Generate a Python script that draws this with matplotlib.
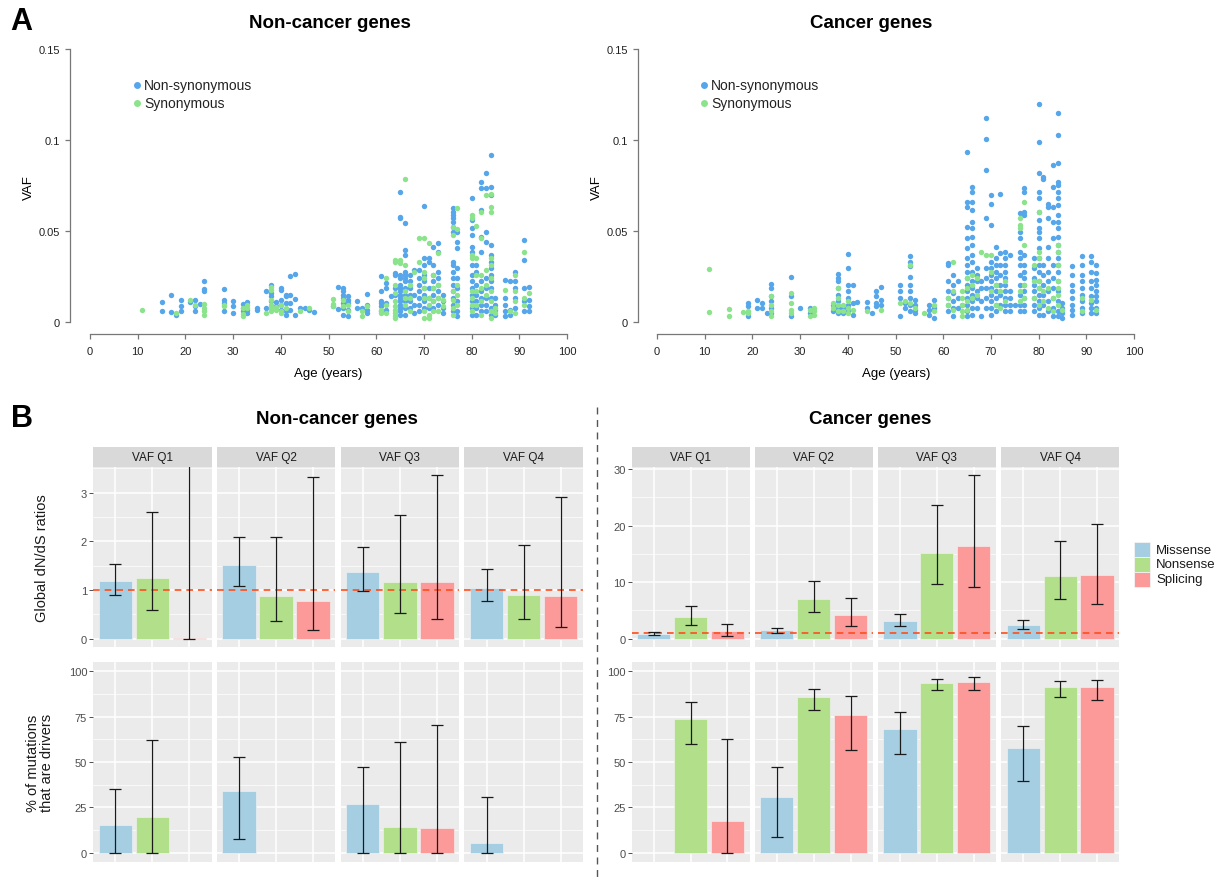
import matplotlib
matplotlib.use("Agg")
import numpy as np
import matplotlib.pyplot as plt
from matplotlib.patches import Rectangle
from matplotlib.lines import Line2D

plt.rcParams['font.family'] = ['Liberation Sans', 'DejaVu Sans']

W, H = 1217, 879

# VAF (x1000) of each mutation, grouped by donor age
noncancer_nonsyn = {
    15: [10.9, 6.2], 17: [15.0, 5.3], 18: [3.6], 19: [11.9, 8.6, 5.8], 21: [10.9],
    22: [11.9, 8.6, 5.8], 23: [9.9], 24: [22.8, 18.2, 17.3], 28: [18.2, 12.2, 10.4, 5.8],
    30: [11.3, 8.6, 4.9], 32: [9.9, 7.7, 5.8], 33: [10.8, 6.8, 4.9], 35: [7.7, 6.8],
    37: [17.2, 7.7], 38: [20.1, 15.9, 14.1, 11.3], 39: [10.9, 8.6],
    40: [18.6, 17.5, 12.2, 9.5, 6.8], 41: [15.0, 14.1, 10.4, 5.8, 4.0],
    42: [25.5, 15.0, 10.4, 6.8], 43: [26.6, 12.8, 4.0], 44: [7.7], 45: [7.7], 46: [6.4],
    47: [5.5], 51: [8.6], 52: [19.3, 7.1], 53: [18.6, 16.8, 15.0, 13.1, 10.4, 7.7, 4.0],
    54: [14.1, 12.2, 10.4, 6.8, 3.1], 56: [11.7, 7.7], 57: [7.7], 58: [15.5, 9.5, 6.8, 4.9],
    61: [25.5, 16.8, 11.3, 10.4, 8.6, 5.8], 62: [21.4, 18.6, 10.4, 6.8], 63: [14.1],
    64: [26.8, 25.9, 18.6, 15.0],
    65: [71.5, 57.8, 56.9, 25.9, 24.1, 20.4, 18.6, 16.8, 15.0, 13.1, 11.3, 9.5, 7.7, 5.8, 4.0],
    66: [54.6, 39.6, 36.9, 27.7, 25.9, 24.1, 22.3, 18.6, 15.0, 11.3, 7.7, 4.0],
    67: [25.9, 22.3, 18.6, 15.0, 11.3, 7.7], 68: [28.6, 15.0, 9.5, 4.9],
    69: [28.6, 24.1, 20.4, 16.8, 13.1, 9.5, 5.8],
    70: [63.9, 35.0, 31.4, 25.9, 22.3, 18.6, 15.0, 11.3, 7.7],
    71: [35.0, 33.2, 18.6, 13.1, 7.7], 72: [41.4, 31.4, 25.9, 22.3, 18.6, 15.0, 11.3, 7.7],
    73: [43.6, 38.7, 27.7, 24.1, 20.4, 16.8, 13.1, 9.5], 74: [15.0, 11.3, 7.7, 4.9],
    76: [62.4, 60.6, 58.8, 56.9, 55.1, 52.4, 49.6, 33.2, 31.4, 27.7, 24.1, 20.4, 16.8, 13.1, 9.5, 5.8],
    77: [49.6, 44.2, 40.5, 29.6, 24.1, 18.6, 11.3, 5.8, 3.1],
    80: [68.2, 56.0, 51.5, 47.8, 41.4, 38.7, 31.4, 25.9, 22.3, 18.6, 15.0, 11.3, 7.7, 4.0],
    81: [31.4, 27.7, 20.4, 15.0, 11.3, 7.7, 4.0],
    82: [77.0, 73.7, 61.5, 46.9, 38.7, 22.3, 16.8, 13.1, 9.5, 5.8],
    83: [81.6, 73.4, 49.6, 44.2, 24.1, 18.6, 13.1, 9.5, 5.8],
    84: [92.0, 74.3, 69.7, 42.3, 36.9, 33.2, 29.6, 25.9, 22.3, 18.6, 13.1, 7.7, 4.0],
    85: [13.1, 9.5, 6.8, 4.0], 87: [23.2, 13.1, 9.5, 5.8, 3.1], 88: [22.3, 6.8, 4.0],
    89: [27.7, 22.3, 18.6, 13.1, 7.7], 91: [45.1, 34.1, 18.6, 11.3, 5.8],
    92: [19.0, 12.2, 8.6, 5.8],
}
noncancer_syn = {
    11: [6.8], 18: [4.9], 21: [11.9], 22: [9.5], 24: [9.9, 7.7, 5.8, 4.0], 28: [9.5, 8.6],
    32: [3.1, 4.4, 7.7], 33: [9.5, 7.7], 37: [4.9], 38: [19.5, 17.7, 12.2, 9.5, 7.7, 5.8],
    39: [8.0, 6.8], 40: [9.5, 5.8, 4.9], 41: [7.7], 44: [5.8], 46: [7.7],
    51: [12.8, 9.9, 8.6], 53: [12.2, 8.6], 54: [9.5, 5.8], 57: [3.1, 5.8], 58: [8.6],
    61: [6.8, 4.9], 62: [24.1, 9.5, 4.9],
    64: [34.1, 33.2, 20.4, 15.9, 11.3, 8.6, 6.8, 4.9, 3.1, 2.2], 65: [34.1, 32.3],
    66: [78.6, 31.4, 16.8, 13.1, 9.5], 67: [20.4, 13.1, 5.8], 68: [27.7], 69: [46.0, 33.2],
    70: [46.4, 27.7, 24.1, 18.6, 13.1, 5.8, 2.2], 71: [43.2, 13.1, 9.5, 4.0, 2.2],
    72: [25.9, 18.6, 11.3, 5.8], 73: [37.8, 20.4, 13.1, 5.8], 74: [12.2, 8.6],
    76: [52.4, 47.8, 16.8, 12.2, 7.7, 4.0], 77: [62.8, 51.1, 20.4, 15.0, 9.5],
    80: [58.8, 56.9, 36.9, 35.0, 16.8, 13.1, 9.5, 5.8], 81: [52.9, 35.0, 25.9, 16.8, 9.5],
    82: [60.6, 46.0, 25.9, 18.6, 11.3, 4.0], 83: [69.7, 28.6, 20.4, 15.0],
    84: [70.1, 63.3, 60.6, 35.0, 31.4, 24.1, 16.8, 11.3, 5.8, 2.2], 85: [7.7, 4.9],
    87: [17.7], 88: [5.8], 89: [25.9, 16.8, 11.3, 4.9], 91: [38.3, 13.1, 9.5], 92: [15.9],
}
cancer_nonsyn = {
    19: [10.4, 8.6, 3.1], 21: [11.9, 7.7], 22: [10.4, 7.7], 23: [4.9],
    24: [21.0, 18.6, 14.1, 11.3, 7.7, 4.9], 28: [24.6, 14.1, 3.1], 30: [7.7], 32: [7.7, 4.9],
    37: [9.5, 5.8], 38: [26.3, 24.1, 22.3, 18.6, 15.0, 11.3, 7.7, 4.9], 39: [7.7, 4.9],
    40: [37.4, 29.9, 20.1, 16.8, 13.1, 9.5, 5.8], 41: [20.1, 10.4, 4.0], 42: [10.9],
    44: [10.9, 7.7], 45: [4.9], 46: [17.3, 14.1, 10.4, 8.6], 47: [19.3, 12.2, 9.5],
    51: [20.4, 16.8, 13.1, 3.1], 52: [10.4, 7.7],
    53: [36.5, 33.2, 30.5, 25.0, 20.4, 16.8, 13.1, 9.5, 5.8], 54: [12.2, 9.5, 6.8, 4.9],
    57: [9.5, 6.8, 4.0], 58: [12.2, 7.7, 2.2], 61: [32.3, 31.4, 22.3, 16.8, 13.1, 9.5, 5.8],
    62: [25.9, 20.4, 15.9, 11.3, 7.7, 3.1], 63: [22.3, 13.1, 7.7], 64: [9.5],
    65: [93.4, 66.1, 63.3, 52.4, 46.0, 40.5, 35.0, 31.4, 27.7, 24.1, 20.4, 16.8, 13.1, 9.5, 5.8, 3.1],
    66: [74.3, 71.5, 66.1, 61.5, 55.1, 51.5, 46.9, 42.3, 36.9, 33.2, 27.7, 22.3, 18.6, 15.0, 11.3, 7.7, 4.0],
    67: [29.6, 25.9, 22.3, 16.8, 13.1, 7.7], 68: [22.3, 18.6, 11.3, 3.1],
    69: [112.2, 100.4, 83.4, 57.3, 29.6, 24.1, 18.6, 13.1, 7.7],
    70: [69.7, 65.1, 53.3, 33.2, 29.6, 25.9, 22.3, 18.6, 15.0, 11.3, 7.7, 4.0],
    71: [41.4, 35.0, 31.4, 27.7, 24.1, 20.4, 16.8, 13.1, 9.5, 5.8],
    72: [70.6, 37.8, 31.4, 25.9, 20.4, 15.0, 9.5],
    73: [38.7, 35.0, 31.4, 27.7, 24.1, 20.4, 16.8, 13.1, 9.5, 5.8],
    74: [36.9, 16.8, 13.1, 9.5, 5.8], 75: [9.5],
    76: [59.7, 49.6, 46.0, 38.7, 35.0, 31.4, 25.9, 20.4, 15.0, 9.5, 5.8],
    77: [73.4, 71.5, 60.6, 58.8, 36.9, 31.4, 27.7, 24.1, 20.4, 16.8, 13.1, 9.5, 5.8],
    79: [35.0, 29.6, 24.1, 20.4, 16.8, 13.1, 9.5, 5.8],
    80: [119.9, 98.9, 81.6, 71.5, 67.9, 60.6, 56.0, 51.5, 49.6, 46.0, 40.5, 35.0, 31.4,
         27.7, 22.3, 18.6, 15.0, 11.3, 7.7, 4.0],
    81: [79.7, 78.8, 31.4, 25.9, 20.4, 15.0, 9.5, 4.0],
    82: [65.1, 63.3, 56.9, 41.4, 35.0, 27.7, 22.3, 16.8, 11.3, 5.8],
    83: [86.1, 74.3, 63.3, 55.1, 46.0, 31.4, 24.1, 18.6, 13.1, 7.7, 3.1],
    84: [115.0, 102.6, 87.4, 77.0, 75.2, 71.5, 67.9, 64.2, 58.8, 55.1, 51.5, 46.9, 42.3,
         38.7, 35.0, 31.4, 27.7, 22.3, 16.8, 11.3, 5.8, 3.1],
    85: [10.4, 7.7, 4.9, 2.2], 87: [30.5, 25.9, 20.4, 16.8, 13.1, 9.5, 6.8, 4.0],
    89: [36.5, 31.4, 25.9, 22.3, 18.6, 15.0, 11.3, 7.7, 4.9],
    91: [36.5, 33.2, 27.7, 22.3, 18.6, 14.1, 10.4, 7.7, 4.9],
    92: [31.4, 26.8, 23.2, 20.4, 16.8, 14.1, 11.3, 7.7, 4.9],
}
cancer_syn = {
    11: [29.0, 5.3], 15: [7.1, 3.5], 18: [5.3], 19: [5.8, 4.9], 24: [14.1, 9.5, 5.8, 3.1],
    28: [15.9, 10.4, 6.8, 4.9], 32: [6.8, 3.1], 33: [7.7, 5.8, 4.0], 37: [10.4, 7.7],
    38: [18.6, 13.1, 9.5, 5.8], 39: [9.5, 5.8], 40: [11.3, 7.7, 4.9], 41: [6.8], 44: [5.8],
    47: [6.4], 51: [10.4], 52: [11.3], 53: [31.4, 10.4], 54: [7.7], 56: [4.9], 58: [9.5, 5.8],
    61: [13.1, 9.5], 62: [32.8, 16.8, 6.8], 64: [16.8, 13.1, 9.5, 5.8, 3.1],
    65: [24.1, 18.6, 11.3, 6.8], 66: [25.9, 20.4, 13.1], 67: [24.1, 15.0], 68: [38.7],
    69: [36.9], 70: [36.9, 27.7, 16.8], 71: [20.4, 9.5], 72: [16.8, 7.7], 73: [22.3, 11.3],
    76: [56.9, 53.3, 51.5, 16.8, 11.3], 77: [66.1, 42.3, 20.4, 13.1], 79: [31.4, 22.3, 13.1],
    80: [60.6, 38.7, 35.0, 22.3, 18.6, 9.5], 81: [16.8, 11.3], 82: [18.6, 7.7],
    83: [13.1, 5.8], 84: [42.3, 38.7, 31.4, 22.3, 18.6, 15.0, 9.5], 85: [6.8],
    89: [13.1, 5.8], 91: [12.2], 92: [6.8],
}

quartiles = ['VAF Q1', 'VAF Q2', 'VAF Q3', 'VAF Q4']
mut_types = ['Missense', 'Nonsense', 'Splicing']

# dN/dS per quartile: [missense, nonsense, splicing]
nc_dnds = [[1.18, 1.24, 0.02], [1.52, 0.88, 0.77], [1.37, 1.17, 1.16], [1.05, 0.90, 0.88]]
nc_dnds_lo = [[0.89, 0.59, 0.0], [1.08, 0.36, 0.18], [0.98, 0.53, 0.40], [0.77, 0.41, 0.25]]
nc_dnds_hi = [[1.54, 2.60, 4.20], [2.10, 2.10, 3.32], [1.89, 2.55, 3.36], [1.44, 1.93, 2.91]]
c_dnds = [[0.85, 3.85, 1.35], [1.55, 7.0, 4.2], [3.2, 15.2, 16.4], [2.5, 11.1, 11.2]]
c_dnds_lo = [[0.62, 2.45, 0.55], [1.1, 4.65, 2.3], [2.2, 9.6, 9.2], [1.65, 7.05, 6.15]]
c_dnds_hi = [[1.12, 5.8, 2.65], [1.9, 10.25, 7.2], [4.45, 23.6, 28.9], [3.3, 17.3, 20.3]]

# % of mutations that are drivers (nan = not estimable)
nan = np.nan
nc_drv = [[15.2, 19.6, nan], [34.1, nan, nan], [27.1, 14.3, 13.6], [5.3, nan, nan]]
nc_drv_lo = [[0, 0, nan], [7.9, nan, nan], [0, 0, 0], [0, nan, nan]]
nc_drv_hi = [[35.3, 61.9, nan], [52.6, nan, nan], [47.4, 61.0, 70.5], [31.0, nan, nan]]
c_drv = [[nan, 73.8, 17.8], [30.6, 85.9, 76.0], [68.3, 93.6, 94.1], [57.6, 91.2, 91.2]]
c_drv_lo = [[nan, 59.8, 0], [8.6, 78.7, 56.7], [54.3, 89.7, 89.4], [39.6, 85.9, 83.9]]
c_drv_hi = [[nan, 82.9, 62.4], [47.0, 90.3, 86.2], [77.6, 95.8, 96.7], [69.9, 94.3, 95.2]]

blue = '#56A6EB'
green = '#8BE38B'
bar_colors = ['#A6CEE3', '#B2DF8A', '#FB9A99']


def px(x0, y0, x1, y1):
    return [x0 / W, 1 - y1 / H, (x1 - x0) / W, (y1 - y0) / H]


def flatten(d):
    ages, vafs = [], []
    for a, vs in d.items():
        for v in vs:
            ages.append(a)
            vafs.append(v / 1000)
    return ages, vafs


fig = plt.figure(figsize=(W / 100, H / 100), dpi=100)


def scatter_panel(x0, x_axis, nonsyn, syn, leg_x):
    # x_axis: pixel position of age 0, 4.77 px per year
    k = 4.77
    ax = fig.add_axes(px(x0, 41, x_axis + 104.2 * k, 335))
    ax.set_xlim(-(x_axis - x0) / k, 104.2)
    ax.set_ylim(-12 / 1820, 282 / 1820)
    a, v = flatten(nonsyn)
    ax.scatter(a, v, s=15, color=blue, linewidths=0, zorder=2)
    a, v = flatten(syn)
    ax.scatter(a, v, s=15, color=green, linewidths=0, zorder=3)
    for s in ['top', 'right']:
        ax.spines[s].set_visible(False)
    ax.spines['left'].set_bounds(0, 0.15)
    ax.spines['bottom'].set_bounds(0, 100)
    for s in ['left', 'bottom']:
        ax.spines[s].set_color('#777777')
        ax.spines[s].set_linewidth(0.9)
    ax.set_xticks(range(0, 101, 10))
    ax.set_yticks([0, 0.05, 0.1, 0.15])
    ax.set_yticklabels(['0', '0.05', '0.1', '0.15'])
    ax.tick_params(length=3.6, width=0.9, color='#777777', labelsize=8,
                   labelcolor='#222222')
    ax.tick_params(axis='x', pad=5)
    ax.tick_params(axis='y', pad=3.5)
    ax.set_xlabel('Age (years)', fontsize=9.5, labelpad=8)
    ax.set_ylabel('VAF', fontsize=9.5, labelpad=3)
    ax.patch.set_alpha(0)
    # legend
    for i, (lab, col) in enumerate([('Non-synonymous', blue), ('Synonymous', green)]):
        yy = 86 + 18 * i
        fig.add_artist(Line2D([leg_x / W], [1 - yy / H], marker='o', markersize=5,
                              color=col, markeredgewidth=0, linestyle='none'))
        fig.text((leg_x + 7) / W, 1 - yy / H, lab, fontsize=10, va='center', ha='left',
                 color='#222222')
    return ax


scatter_panel(70, 90, noncancer_nonsyn, noncancer_syn, 137)
scatter_panel(638, 657, cancer_nonsyn, cancer_syn, 704)

fig.text(330 / W, 1 - 23 / H, 'Non-cancer genes', fontsize=13.5, fontweight='bold',
         ha='center', va='center')
fig.text(871 / W, 1 - 23 / H, 'Cancer genes', fontsize=13.5, fontweight='bold',
         ha='center', va='center')
fig.text(21 / W, 1 - 22 / H, 'A', fontsize=22, fontweight='bold', ha='center', va='center')
fig.text(22 / W, 1 - 419 / H, 'B', fontsize=22, fontweight='bold', ha='center', va='center')
fig.text(337 / W, 1 - 420 / H, 'Non-cancer genes', fontsize=13.5, fontweight='bold',
         ha='center', va='center')
fig.text(870 / W, 1 - 419 / H, 'Cancer genes', fontsize=13.5, fontweight='bold',
         ha='center', va='center')

# dashed separator between the two halves of panel B
fig.add_artist(Line2D([597 / W, 597 / W], [1 - 408 / H, 0], color='#555555',
                      linewidth=1.0, linestyle=(0, (5, 4))))


def bar_facet(rect, vals, lo, hi, ylim, yticks, minor, show_y, ref_line):
    ax = fig.add_axes(rect)
    ax.set_facecolor('#EBEBEB')
    ax.set_xlim(0.4, 3.6)
    ax.set_ylim(*ylim)
    for m in minor:
        ax.axhline(m, color='white', linewidth=0.5, zorder=0)
    for t in yticks:
        ax.axhline(t, color='white', linewidth=1.1, zorder=0)
    for x in [1, 2, 3]:
        ax.axvline(x, color='white', linewidth=1.1, zorder=0)
    xs = np.array([1, 2, 3])
    v = np.array(vals, dtype=float)
    ok = ~np.isnan(v)
    ax.bar(xs[ok], v[ok], width=0.9, color=np.array(bar_colors)[ok], edgecolor='#F4F4F4',
           linewidth=0.4, zorder=2)
    if ref_line:
        ax.axhline(1, color='#FF4D1A', linewidth=1.2, linestyle=(0, (4, 3)), zorder=3)
    lo = np.array(lo, dtype=float)
    hi = np.array(hi, dtype=float)
    for x, l, h in zip(xs[ok], lo[ok], hi[ok]):
        ax.errorbar([x], [(l + h) / 2], yerr=[[(h - l) / 2]], fmt='none', ecolor='#1A1A1A',
                    elinewidth=0.9, capsize=4, capthick=0.9, zorder=4)
    for s in ax.spines.values():
        s.set_visible(False)
    ax.set_xticks([])
    ax.set_yticks(yticks)
    ax.tick_params(axis='y', length=2.75, width=0.6, color='#333333', labelsize=8,
                   labelcolor='#4D4D4D', pad=1.5)
    if not show_y:
        ax.tick_params(axis='y', length=0, labelleft=False)
    return ax


def strip(x0, x1, label):
    ax = fig.add_axes(px(x0, 448, x1, 468))
    ax.set_facecolor('#D9D9D9')
    ax.set_xticks([])
    ax.set_yticks([])
    for s in ax.spines.values():
        s.set_visible(False)
    ax.text(0.5, 0.48, label, transform=ax.transAxes, ha='center', va='center',
            fontsize=8.5, color='#1A1A1A')


def facet_half(left, width, gap, dnds, dlo, dhi, dlim, dticks, dminor, drv, rlo, rhi):
    for q in range(4):
        x0 = left + q * (width + gap)
        x1 = x0 + width
        strip(x0, x1, quartiles[q])
        bar_facet(px(x0, 468, x1, 648), dnds[q], dlo[q], dhi[q], dlim, dticks, dminor,
                  q == 0, True)
        bar_facet(px(x0, 663, x1, 863), drv[q], rlo[q], rhi[q], (-5, 105),
                  [0, 25, 50, 75, 100], [12.5, 37.5, 62.5, 87.5], q == 0, False)


facet_half(93, 118.5, 5.3, nc_dnds, nc_dnds_lo, nc_dnds_hi, (-0.17, 3.53), [0, 1, 2, 3],
           [0.5, 1.5, 2.5, 3.5], nc_drv, nc_drv_lo, nc_drv_hi)
facet_half(631.5, 118, 5.2, c_dnds, c_dnds_lo, c_dnds_hi, (-1.45, 30.35), [0, 10, 20, 30],
           [5, 15, 25], c_drv, c_drv_lo, c_drv_hi)

fig.text(42 / W, 1 - 558 / H, 'Global dN/dS ratios', rotation=90, fontsize=10.5,
         ha='center', va='center', color='#1A1A1A')
fig.text(40 / W, 1 - 763 / H, '% of mutations\nthat are drivers', rotation=90,
         fontsize=10.5, ha='center', va='center', color='#1A1A1A', linespacing=1.0)

# fill legend
for i, (lab, col) in enumerate(zip(mut_types, bar_colors)):
    y0 = 543 + 15 * i
    fig.add_artist(Rectangle((1134 / W, 1 - (y0 + 15) / H), 16 / W, 15 / H,
                             facecolor=col, edgecolor='#F4F4F4', linewidth=0.6,
                             transform=fig.transFigure))
    fig.text(1156 / W, 1 - (y0 + 7.5) / H, lab, fontsize=9.5, va='center', ha='left',
             color='#1A1A1A')

fig.savefig('out.png', dpi=100)
